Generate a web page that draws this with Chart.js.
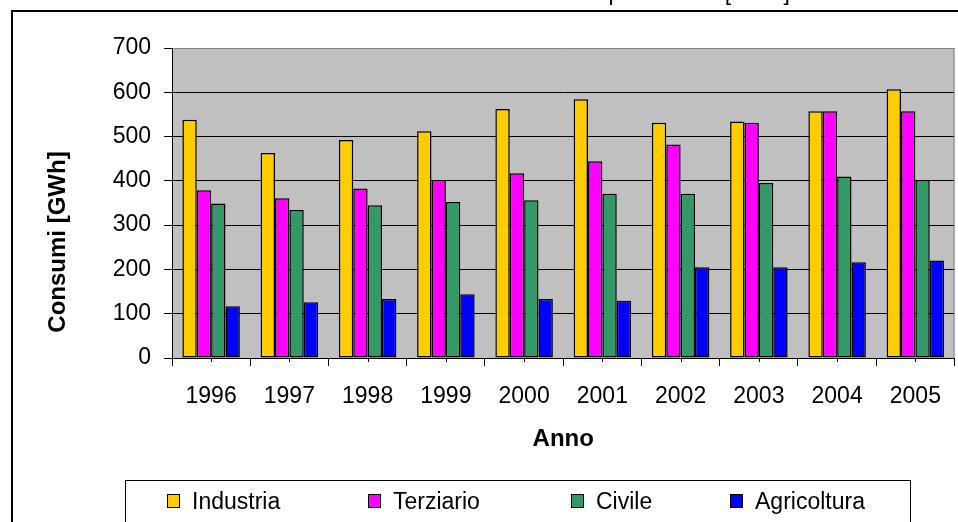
<!DOCTYPE html>
<html>
<head>
<meta charset="utf-8">
<script src="https://cdn.jsdelivr.net/npm/chart.js@4.4.1/dist/chart.umd.min.js"></script>
<style>
  html, body { margin: 0; padding: 0; background: #fff; }
  canvas { display: block; }
</style>
</head>
<body>
<canvas id="chart" width="958" height="522"></canvas>
<script>
// ---- data ----
const years = ['1996', '1997', '1998', '1999', '2000', '2001', '2002', '2003', '2004', '2005'];
const industria   = [538, 463, 492, 512, 562, 584, 531, 534, 557, 607];
const terziario   = [379, 361, 383, 402, 417, 444, 482, 531, 557, 557];
const civile      = [349, 334, 345, 352, 356, 371, 371, 395, 410, 402];
const agricoltura = [117, 126, 133, 144, 133, 129, 205, 205, 216, 220];
const seriesNames = ['Industria', 'Terziario', 'Civile', 'Agricoltura'];
const seriesColors = ['#FFCC00', '#FF00FF', '#339966', '#0000FF'];
const yTicks = [0, 100, 200, 300, 400, 500, 600, 700];

const FONT = "'Liberation Sans', Arial, sans-serif";

// plot background, frame, titles, legend and minor ticks
const decor = {
  id: 'decor',
  beforeDraw(chart) {
    const { ctx, chartArea: a } = chart;
    ctx.save();
    ctx.fillStyle = '#C0C0C0';
    ctx.fillRect(a.left, a.top, a.right - a.left, a.bottom - a.top);
    ctx.restore();
  },
  afterDraw(chart) {
    const { ctx, chartArea: a } = chart;
    const x = chart.scales.x;
    ctx.save();

    // outer chart frame (cut off by the picture)
    ctx.strokeStyle = '#000';
    ctx.lineWidth = 2;
    ctx.beginPath();
    ctx.moveTo(12, 530); ctx.lineTo(12, 11); ctx.lineTo(970, 11);
    ctx.stroke();

    // title, only its lowest part shows
    ctx.fillStyle = '#000';
    ctx.font = '23px ' + FONT;
    ctx.textAlign = 'right';
    ctx.textBaseline = 'alphabetic';
    ctx.fillText('Consumi elettrici per settore [GWh]', 790, -0.5);

    // plot border right side
    ctx.strokeStyle = '#808080';
    ctx.lineWidth = 1;
    ctx.beginPath();
    ctx.moveTo(a.right - 0.5, a.top); ctx.lineTo(a.right - 0.5, a.bottom);
    ctx.stroke();

    // short ticks at category centres
    ctx.strokeStyle = '#000';
    ctx.beginPath();
    for (let i = 0; i < years.length; i++) {
      const px = Math.round(x.getPixelForTick(i)) + 0.5;
      ctx.moveTo(px, a.bottom); ctx.lineTo(px, a.bottom + 4);
    }
    ctx.stroke();

    // axis titles
    ctx.font = 'bold 24px ' + FONT;
    ctx.textAlign = 'center';
    ctx.textBaseline = 'middle';
    ctx.fillText('Anno', (a.left + a.right) / 2, 439);
    ctx.translate(58, 242);
    ctx.rotate(-Math.PI / 2);
    ctx.fillText('Consumi [GWh]', 0, 0);
    ctx.setTransform(1, 0, 0, 1, 0, 0);

    // legend box
    ctx.strokeStyle = '#000';
    ctx.lineWidth = 1;
    ctx.strokeRect(125.5, 480.5, 785, 60);
    const itemX = [167, 368, 571, 730];
    ctx.font = '23px ' + FONT;
    ctx.textAlign = 'left';
    ctx.textBaseline = 'alphabetic';
    chart.data.datasets.forEach((ds, i) => {
      ctx.fillStyle = ds.backgroundColor;
      ctx.fillRect(itemX[i] + 0.5, 494.5, 12, 13);
      ctx.strokeRect(itemX[i] + 0.5, 494.5, 12, 13);
      ctx.fillStyle = '#000';
      ctx.fillText(ds.label, itemX[i] + 25, 509);
    });
    ctx.restore();
  }
};

const seriesData = [industria, terziario, civile, agricoltura];

new Chart(document.getElementById('chart'), {
  type: 'bar',
  data: {
    labels: years,
    datasets: seriesData.map((d, i) => ({
      label: seriesNames[i],
      data: d,
      backgroundColor: seriesColors[i],
      borderColor: '#000',
      borderWidth: 1.5,
      borderSkipped: false,
      barPercentage: 1.0,
      categoryPercentage: 0.735
    }))
  },
  options: {
    responsive: false,
    animation: false,
    layout: { padding: { top: 48, right: 1, left: 0, bottom: 0 } },
    plugins: {
      legend: { display: false },
      tooltip: { enabled: false }
    },
    scales: {
      x: {
        offset: true,
        afterFit: s => { s.height = 164; },
        grid: { offset: true, drawOnChartArea: false, drawTicks: true, tickLength: 8, color: '#000' },
        border: { display: true, color: '#000', width: 1 },
        ticks: { color: '#000', padding: 17, font: { family: FONT, size: 23 }, maxRotation: 0 }
      },
      y: {
        min: 0, max: 700,
        afterFit: s => { s.width = 172; },
        afterBuildTicks: s => { s.ticks = yTicks.map(v => ({ value: v })); },
        grid: {
          color: c => (c.tick && c.tick.value === 700 ? '#808080' : '#000'),
          tickColor: '#000',
          tickLength: 8,
          lineWidth: 1
        },
        border: { display: true, color: '#000', width: 1 },
        ticks: { color: '#000', padding: 13, font: { family: FONT, size: 23 } }
      }
    }
  },
  plugins: [decor]
});
</script>
</body>
</html>
